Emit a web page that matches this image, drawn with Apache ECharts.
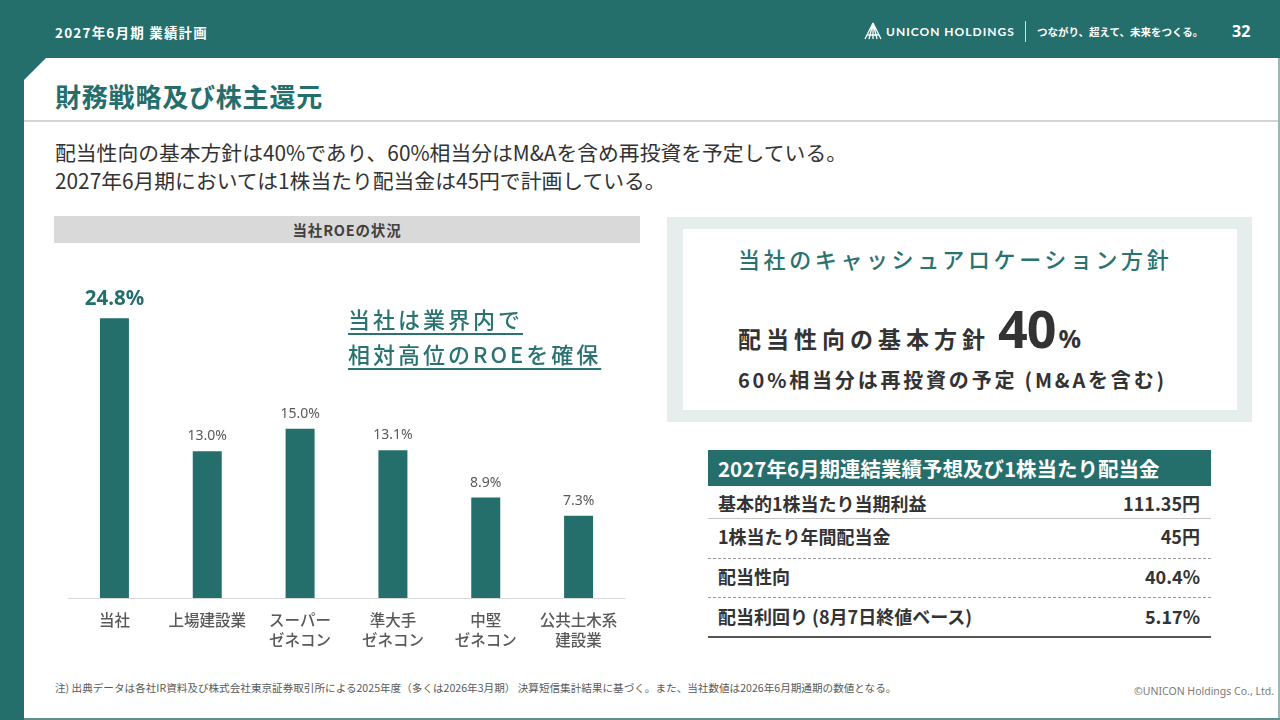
<!DOCTYPE html>
<html>
<head>
<meta charset="utf-8">
<script src="https://cdn.jsdelivr.net/npm/echarts@6/dist/echarts.min.js"></script>
<style>
  body { margin:0; width:1280px; height:720px; overflow:hidden; position:relative;
         background:#246e6c; font-family:"Noto Sans CJK JP","Noto Sans",sans-serif; }
  .a { position:absolute; white-space:nowrap; }
  #panel { left:24px; top:58px; width:1254px; height:660px; background:#fff;
           clip-path:polygon(22px 0,100% 0,100% 100%,0 100%,0 22px); }
  #edge { left:1278px; top:58px; width:2px; height:662px; background:#9bb7b6; }
  #bottom { left:24px; top:718px; width:1256px; height:2px; background:#5f8f8e; }
  .hdr { color:#fff; font-weight:700; }
  .tbl-row { left:718px; width:482px; font-size:18px; font-weight:700; color:#333; line-height:24px; }
  .tbl-row span { position:absolute; right:0; }
  .sep { left:708px; width:503px; height:0; }
</style>
</head>
<body>
<div class="a" id="panel"></div>
<div class="a" id="edge"></div>
<div class="a" id="bottom"></div>

<!-- header -->
<div class="a hdr" style="left:55px;top:22px;font-size:13.5px;line-height:20px;letter-spacing:1.2px">2027年6月期 業績計画</div>
<svg class="a" style="left:864px;top:22px" width="18" height="18" viewBox="0 0 18 18">
  <path d="M9 1 L1 17 M9 1 L17 17 M9 1 L9 17 M9 1 L5 17 M9 1 L13 17 M3 13 L15 13" stroke="#fff" stroke-width="1.3" fill="none"/>
</svg>
<div class="a hdr" style="left:886px;top:22px;font-size:12px;line-height:20px;letter-spacing:1px;font-family:Lato,'Noto Sans',sans-serif;font-weight:700">UNICON HOLDINGS</div>
<div class="a" style="left:1025px;top:21px;width:1px;height:21px;background:#cfe0df"></div>
<div class="a hdr" style="left:1037px;top:22px;font-size:10.5px;line-height:20px">つながり、超えて、未来をつくる。</div>
<div class="a hdr" style="left:1232px;top:20px;font-size:16px;line-height:22px;font-family:'Noto Sans',sans-serif">32</div>

<!-- title -->
<div class="a" style="left:55px;top:78px;font-size:26px;line-height:36px;font-weight:700;color:#246e6c;letter-spacing:0.8px">財務戦略及び株主還元</div>
<div class="a" style="left:24px;top:120px;width:1254px;height:2px;background:#d4d4d4"></div>

<div class="a" style="left:55px;top:138px;font-size:20.8px;line-height:28px;color:#333">配当性向の基本方針は40%であり、60%相当分はM&amp;Aを含め再投資を予定している。<br>2027年6月期においては1株当たり配当金は45円で計画している。</div>

<!-- chart area -->
<div class="a" style="left:54px;top:216px;width:586px;height:27px;background:#d9d9d9;text-align:center;font-size:14.5px;line-height:27px;font-weight:700;color:#404040;letter-spacing:0.8px">当社ROEの状況</div>
<div class="a" id="chart" style="left:40px;top:250px;width:620px;height:420px"></div>
<div class="a" style="left:348px;top:301px;font-size:22px;line-height:35px;color:#2a7371;font-weight:500;letter-spacing:3px;text-decoration:underline;text-decoration-thickness:1.5px;text-underline-offset:5px">当社は業界内で<br>相対高位のROEを確保</div>

<!-- cash allocation box -->
<div class="a" style="left:667px;top:217px;width:585px;height:205px;background:#e5eeed"></div>
<div class="a" style="left:683px;top:229px;width:554px;height:181px;background:#fff"></div>
<div class="a" style="left:738px;top:243px;font-size:22px;line-height:30px;color:#2a7371;font-weight:500;letter-spacing:3.6px">当社のキャッシュアロケーション方針</div>
<div class="a" style="left:738px;top:300px;line-height:56px;color:#333;font-weight:700">
  <span style="font-size:23px;letter-spacing:5px">配当性向の基本方針</span><span style="font-size:52px;font-family:'Noto Sans',sans-serif;font-weight:700;margin-left:8px;letter-spacing:-1px">40</span><span style="font-size:25px;font-family:'Noto Sans',sans-serif;margin-left:3px">%</span>
</div>
<div class="a" style="left:738px;top:366px;font-size:20px;line-height:28px;color:#333;font-weight:700;letter-spacing:2.8px">60%相当分は再投資の予定 (M&amp;Aを含む)</div>

<!-- table -->
<div class="a" style="left:708px;top:450px;width:503px;height:36px;background:#246e6c"></div>
<div class="a" style="left:718px;top:452px;font-size:20.5px;line-height:32px;color:#fff;font-weight:700">2027年6月期連結業績予想及び1株当たり配当金</div>
<div class="a tbl-row" style="top:491px">基本的1株当たり当期利益<span>111.35円</span></div>
<div class="a sep" style="top:518px;border-top:1px solid #c4c4c4"></div>
<div class="a tbl-row" style="top:524px">1株当たり年間配当金<span>45円</span></div>
<div class="a sep" style="top:558px;border-top:1px dashed #9a9a9a"></div>
<div class="a tbl-row" style="top:564px">配当性向<span>40.4%</span></div>
<div class="a sep" style="top:597px;border-top:1px dashed #9a9a9a"></div>
<div class="a tbl-row" style="top:604px">配当利回り (8月7日終値ベース)<span>5.17%</span></div>
<div class="a sep" style="top:636px;border-top:2px solid #555"></div>

<!-- footer -->
<div class="a" style="left:55px;top:680px;font-size:10.6px;line-height:16px;color:#595959">注) 出典データは各社IR資料及び株式会社東京証券取引所による2025年度（多くは2026年3月期） 決算短信集計結果に基づく。また、当社数値は2026年6月期通期の数値となる。</div>
<div class="a" style="right:6px;top:683px;font-size:10.5px;line-height:16px;color:#7a7a7a;font-family:'Noto Sans',sans-serif">©UNICON Holdings Co., Ltd.</div>

<script>
// ROE比較データ
var categories = ['当社', '上場建設業', 'スーパー\nゼネコン', '準大手\nゼネコン', '中堅\nゼネコン', '公共土木系\n建設業'];
var roeValues = [24.8, 13.0, 15.0, 13.1, 8.9, 7.3];
var highlightIndex = 0;

var teal = '#246e6c';
var chart = echarts.init(document.getElementById('chart'));

var seriesData = roeValues.map(function (v, i) {
    if (i === highlightIndex) {
        return {
            value: v,
            label: { color: teal, fontSize: 20.5, fontWeight: 'bold', distance: 9 }
        };
    }
    return v;
});

chart.setOption({
    animation: false,
    grid: { left: 28, top: 66, width: 557, height: 282, outerBoundsMode: 'none' },
    xAxis: {
        type: 'category',
        data: categories,
        axisLine: { lineStyle: { color: '#d9d9d9', width: 1 } },
        axisTick: { show: false },
        axisLabel: {
            color: '#595959',
            fontSize: 15.5,
            fontWeight: 500,
            lineHeight: 20,
            margin: 12,
            interval: 0,
            fontFamily: '"Noto Sans CJK JP", sans-serif'
        }
    },
    yAxis: {
        type: 'value',
        min: 0,
        max: 25,
        show: false,
        splitLine: { show: false }
    },
    series: [{
        type: 'bar',
        data: seriesData,
        barWidth: 29,
        itemStyle: { color: teal },
        label: {
            show: true,
            position: 'top',
            distance: 8,
            color: '#595959',
            fontSize: 14,
            fontFamily: '"Noto Sans", sans-serif',
            formatter: function (p) { return p.value.toFixed(1) + '%'; }
        }
    }]
});
</script>
</body>
</html>
